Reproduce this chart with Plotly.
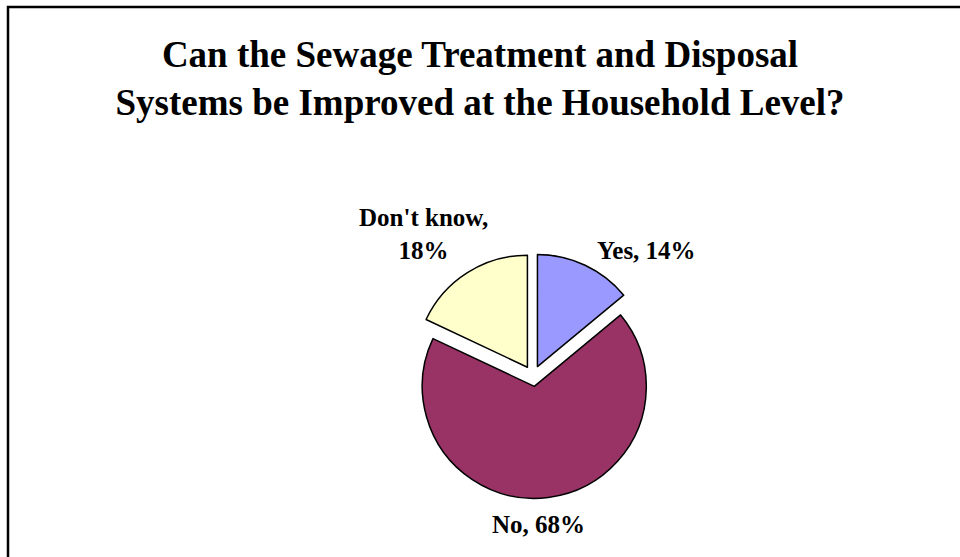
import plotly.graph_objects as go

labels = ["Yes", "No", "Don't know"]
values = [14, 68, 18]
colors = ["#9999FF", "#993366", "#FFFFCC"]
title_lines = ["Can the Sewage Treatment and Disposal", "Systems be Improved at the Household Level?"]

W, H = 960, 557
cx, cy, r, pull = 533, 376, 112, 0.093
half = r * (1 + pull)
total = sum(values)

# label placement (pixel offsets from the pie centre) and line-break style
label_offsets = {"Yes": (113, -126), "No": (5, 148), "Don't know": (-110, -142)}
label_breaks = {"Yes": " ", "No": " ", "Don't know": "<br>"}

fig = go.Figure(go.Pie(
    labels=labels,
    values=values,
    sort=False,
    direction="clockwise",
    rotation=0,
    pull=[pull] * len(values),
    marker=dict(colors=colors, line=dict(color="black", width=1.5)),
    textinfo="none",
    showlegend=False,
    hoverinfo="skip",
    domain=dict(x=[(cx - half) / W, (cx + half) / W], y=[(H - cy - half) / H, (H - cy + half) / H]),
))

for lab, val in zip(labels, values):
    dx, dy = label_offsets[lab]
    fig.add_annotation(
        text="<b>%s,%s%d%%</b>" % (lab, label_breaks[lab], round(100 * val / total)),
        xref="paper", yref="paper",
        x=(cx + dx) / W, y=(H - (cy + dy)) / H,
        xanchor="center", yanchor="middle", align="center", showarrow=False,
        font=dict(family="Liberation Serif", size=25, color="black"),
    )

fig.update_layout(
    width=W, height=H,
    margin=dict(l=0, r=0, t=0, b=0),
    paper_bgcolor="white",
    plot_bgcolor="white",
    title=dict(
        text="<b>" + "<br>".join(title_lines) + "</b>",
        x=0.5, xanchor="center",
        y=1 - 67 / H, yanchor="top",
        font=dict(family="Liberation Serif", size=37, color="black"),
    ),
    shapes=[dict(type="rect", xref="paper", yref="paper",
                 x0=8 / W, x1=1.02, y0=-0.02, y1=1 - 7 / H,
                 line=dict(color="black", width=2.5), fillcolor="rgba(0,0,0,0)")],
)

fig.write_html("out.html")
